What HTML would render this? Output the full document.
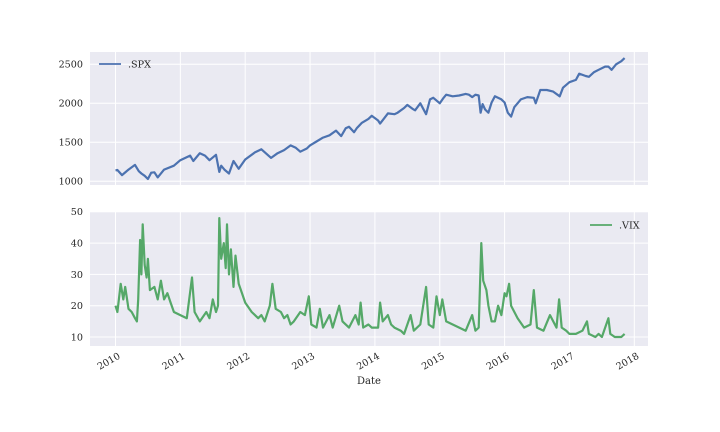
<!DOCTYPE html>
<html><head><meta charset="utf-8"><style>
html,body{margin:0;padding:0;background:#fff;}
svg{display:block;font-family:"DejaVu Serif","Liberation Serif",serif;}
</style></head><body>
<svg id="chart" width="720" height="432" viewBox="0 0 720 432" xmlns="http://www.w3.org/2000/svg">
<rect x="90" y="52" width="558" height="133" fill="#EAEAF2"/>
<rect x="90" y="212" width="558" height="134" fill="#EAEAF2"/>
<g id="grid"></g>
<g id="marks"></g>
<g id="labels" font-size="9.6" fill="#262626"></g>
<g>
<line x1="99" y1="64" x2="121" y2="64" stroke="#4C72B0" stroke-width="1.8"/>
<text x="128" y="67.5" font-size="9.6" fill="#262626">.SPX</text>
</g>
<g>
<line x1="590" y1="225" x2="612" y2="225" stroke="#55A868" stroke-width="1.8"/>
<text x="619" y="228.5" font-size="9.6" fill="#262626">.VIX</text>
</g>
<text x="369" y="384" font-size="10" fill="#262626" text-anchor="middle">Date</text>
</svg>
<script>
const years = [2010,2011,2012,2013,2014,2015,2016,2017,2018];
const spxTicks = [1000,1500,2000,2500];
const vixTicks = [10,20,30,40,50];
const spxT = [2010.0,2010.03,2010.1,2010.2,2010.3,2010.36,2010.4,2010.45,2010.5,2010.55,2010.6,2010.65,2010.75,2010.9,2011.0,2011.15,2011.2,2011.3,2011.38,2011.45,2011.55,2011.6,2011.63,2011.68,2011.75,2011.82,2011.9,2012.0,2012.15,2012.25,2012.4,2012.5,2012.6,2012.7,2012.78,2012.85,2012.95,2013.0,2013.1,2013.2,2013.3,2013.4,2013.48,2013.55,2013.6,2013.68,2013.72,2013.8,2013.9,2013.95,2014.05,2014.08,2014.2,2014.3,2014.35,2014.45,2014.5,2014.58,2014.62,2014.7,2014.79,2014.85,2014.9,2015.0,2015.05,2015.1,2015.2,2015.3,2015.4,2015.45,2015.5,2015.55,2015.6,2015.63,2015.66,2015.7,2015.75,2015.8,2015.85,2015.95,2016.0,2016.05,2016.1,2016.15,2016.25,2016.35,2016.45,2016.48,2016.55,2016.65,2016.75,2016.85,2016.9,2017.0,2017.1,2017.15,2017.25,2017.3,2017.38,2017.45,2017.55,2017.6,2017.65,2017.72,2017.8,2017.85];
const spxV = [1140,1145,1080,1150,1210,1130,1100,1070,1030,1110,1115,1050,1150,1200,1270,1330,1260,1360,1330,1270,1340,1120,1200,1150,1100,1260,1160,1280,1370,1410,1300,1360,1400,1460,1430,1380,1420,1460,1510,1560,1590,1650,1580,1680,1700,1630,1680,1750,1800,1840,1780,1740,1870,1860,1880,1940,1980,1930,1910,2000,1860,2050,2070,2000,2060,2110,2090,2100,2120,2110,2080,2110,2100,1880,1990,1920,1880,2010,2090,2050,2010,1880,1830,1950,2050,2080,2070,2000,2170,2170,2150,2090,2200,2270,2300,2380,2350,2340,2400,2430,2470,2470,2430,2500,2540,2580];
const vixT = [2010.0,2010.03,2010.08,2010.12,2010.15,2010.2,2010.25,2010.3,2010.33,2010.35,2010.38,2010.4,2010.42,2010.45,2010.48,2010.5,2010.53,2010.6,2010.65,2010.7,2010.75,2010.8,2010.85,2010.9,2011.0,2011.1,2011.18,2011.22,2011.3,2011.4,2011.45,2011.5,2011.55,2011.58,2011.6,2011.63,2011.67,2011.7,2011.72,2011.75,2011.78,2011.82,2011.85,2011.9,2011.95,2012.0,2012.1,2012.2,2012.25,2012.3,2012.38,2012.42,2012.47,2012.55,2012.6,2012.65,2012.7,2012.75,2012.85,2012.92,2012.98,2013.02,2013.1,2013.15,2013.2,2013.3,2013.35,2013.45,2013.5,2013.6,2013.7,2013.75,2013.78,2013.82,2013.9,2013.95,2014.05,2014.08,2014.12,2014.2,2014.25,2014.3,2014.4,2014.45,2014.55,2014.6,2014.7,2014.79,2014.83,2014.9,2014.95,2015.0,2015.04,2015.1,2015.2,2015.3,2015.4,2015.5,2015.55,2015.6,2015.64,2015.67,2015.72,2015.75,2015.8,2015.85,2015.9,2015.95,2016.0,2016.03,2016.07,2016.1,2016.2,2016.3,2016.4,2016.45,2016.5,2016.6,2016.7,2016.8,2016.84,2016.88,2016.95,2017.0,2017.1,2017.2,2017.27,2017.3,2017.4,2017.45,2017.5,2017.6,2017.63,2017.7,2017.8,2017.85];
const vixV = [20,18,27,22,26,19,18,16,15,22,41,30,46,33,29,35,25,26,22,28,22,24,21,18,17,16,29,18,15,18,16,22,18,20,48,35,40,32,46,30,38,26,36,27,24,21,18,16,17,15,20,27,19,18,16,17,14,15,18,17,23,14,13,19,13,17,13,20,15,13,17,14,21,13,14,13,13,21,15,17,14,13,12,11,17,12,14,26,14,13,23,17,22,15,14,13,12,17,12,13,40,28,25,20,15,15,20,17,24,23,27,20,16,13,14,25,13,12,17,13,22,13,12,11,11,12,15,11,10,11,10,16,11,10,10,11];

const NS = "http://www.w3.org/2000/svg";
const X0 = 90, X1 = 648;
function xs(t){ return 115.5 + (t - 2010) * 64.85; }
function ySpx(v){ return 181.3 - (v - 1000) * 39 / 500; }
function yVix(v){ return 337 - (v - 10) * 31.3 / 10; }
function mk(tag, attrs, parent){ const e = document.createElementNS(NS, tag); for (const k in attrs) e.setAttribute(k, attrs[k]); parent.appendChild(e); return e; }

const grid = document.getElementById('grid');
const marks = document.getElementById('marks');
const labels = document.getElementById('labels');

years.forEach(y => {
  const x = xs(y);
  const g1 = mk('line', {x1:x, x2:x, y1:52, y2:185, stroke:'#fff', 'stroke-width':1}, grid);
  
  
  const g2 = mk('line', {x1:x, x2:x, y1:212, y2:346, stroke:'#fff', 'stroke-width':1}, grid);
  
  
  const t = mk('text', {x:x+2, y:352, 'text-anchor':'end', transform:'rotate(-30 '+(x+2)+' 352)', dy:'0.7em'}, labels);
  t.textContent = y;
  
  
});
spxTicks.forEach(v => {
  const y = ySpx(v);
  const g = mk('line', {x1:X0, x2:X1, y1:y, y2:y, stroke:'#fff', 'stroke-width':1}, grid);
  
  
  const t = mk('text', {x:83, y:y+3.4, 'text-anchor':'end'}, labels);
  t.textContent = v;
  
  
});
vixTicks.forEach(v => {
  const y = yVix(v);
  const g = mk('line', {x1:X0, x2:X1, y1:y, y2:y, stroke:'#fff', 'stroke-width':1}, grid);
  
  
  const t = mk('text', {x:83, y:y+3.4, 'text-anchor':'end'}, labels);
  t.textContent = v;
  
  
});

const spxPts = spxT.map((t,i) => xs(t).toFixed(1) + ',' + ySpx(spxV[i]).toFixed(1)).join(' ');
const spxLine = mk('polyline', {points:spxPts, fill:'none', stroke:'#4C72B0', 'stroke-width':2.2, 'stroke-linejoin':'round'}, marks);



const vixPts = vixT.map((t,i) => xs(t).toFixed(1) + ',' + yVix(vixV[i]).toFixed(1)).join(' ');
const vixLine = mk('polyline', {points:vixPts, fill:'none', stroke:'#55A868', 'stroke-width':2.2, 'stroke-linejoin':'round'}, marks);


</script>
</body></html>
